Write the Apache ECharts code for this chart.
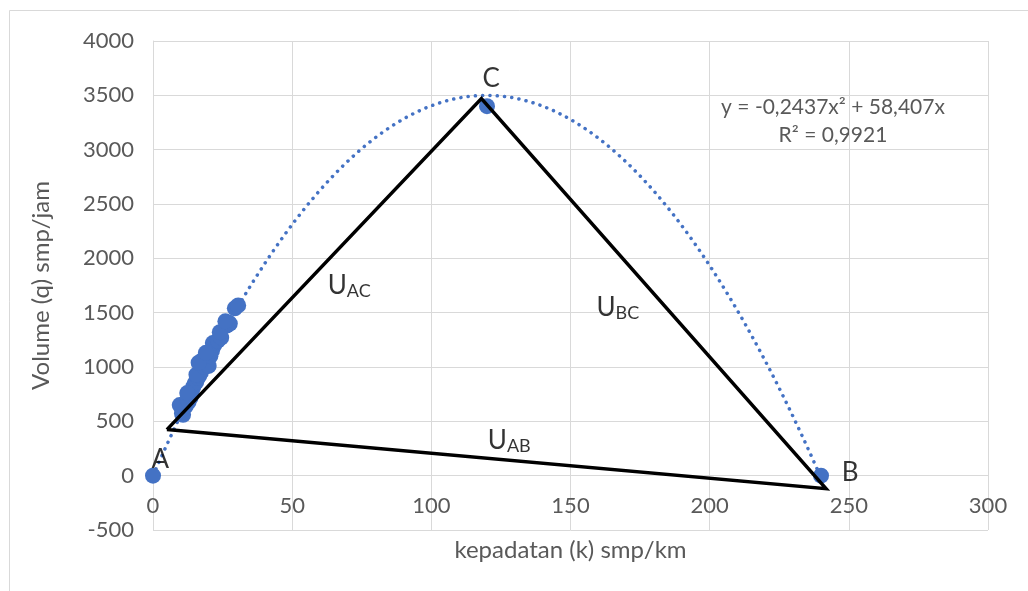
<!DOCTYPE html>
<html>
<head>
<meta charset="utf-8">
<script src="https://cdn.jsdelivr.net/npm/echarts@6/dist/echarts.min.js"></script>
<style>
  html, body { margin: 0; padding: 0; background: #fff; }
  #chart { width: 1028px; height: 591px; }
</style>
</head>
<body>
<div id="chart"></div>
<script>
// observed points: kepadatan (k) vs volume (q)
var kData = [0, 10.4, 10.8, 11.5, 11.8, 9.6, 12.4, 12.8, 13.5, 14, 14.5, 13.2, 15, 15.5, 16.1, 16.6, 17.2, 15.6, 18, 18.4, 19, 19.6, 17.6, 20, 20.6, 21.2, 22, 21.5, 23.3, 24.5, 26.5, 27, 27.6, 29.4, 30.6, 12.3, 16.4, 19, 24, 26, 120, 240];
var qData = [0, 571, 560, 663, 640, 650, 700, 680, 720, 783, 820, 760, 850, 860, 903, 920, 950, 930, 1041, 1000, 1050, 1088, 1060, 1010, 1100, 1150, 1200, 1220, 1244, 1270, 1380, 1410, 1400, 1540, 1567, 760, 1040, 1130, 1320, 1420, 3400, 0];

// polynomial trendline y = a*x^2 + b*x
var trendCoef = [-0.2437, 58.407];
var trendRange = [0, 240];

// triangle A -> C -> B -> A
var triK = [5, 118, 241.8, 5];
var triQ = [424, 3470, -120, 424];

// annotation texts and their data positions
var noteText = ['A', 'C', 'B', '{u|U}{s|AC}', '{u|U}{s|BC}', '{u|U}{s|AB}'];
var noteK = [2.6, 121.5, 250.5, 70.5, 167, 128];
var noteQ = [150, 3650, 25, 1750, 1548, 322];

var xTicks = [0, 300, 50];
var yTicks = [-500, 4000, 500];

var scatterData = [];
for (var i = 0; i < kData.length; i++) scatterData.push([kData[i], qData[i]]);

var trendData = [];
for (var x = trendRange[0]; x <= trendRange[1]; x += 1) {
  trendData.push([x, trendCoef[0] * x * x + trendCoef[1] * x]);
}

var triData = [];
for (var i = 0; i < triK.length; i++) triData.push([triK[i], triQ[i]]);

var noteData = [];
for (var i = 0; i < noteText.length; i++) noteData.push({ value: [noteK[i], noteQ[i]], name: noteText[i] });

var font = 'Lato';
var grey = '#595959';
var gridColor = '#d9d9d9';

var ec = echarts.init(document.getElementById('chart'));
ec.setOption({
  animation: false,
  backgroundColor: '#fff',
  textStyle: { fontFamily: font },
  grid: { left: 153, right: 40, top: 41, bottom: 61, outerBoundsMode: 'none' },
  graphic: [{
    type: 'rect',
    shape: { x: 9.5, y: 10.5, width: 1040, height: 600 },
    style: { fill: null, stroke: gridColor, lineWidth: 1 }
  }, {
    type: 'text',
    x: 833, y: 107,
    style: { text: 'y = -0,2437x² + 58,407x', fill: grey, font: '21px "' + font + '"', align: 'center', verticalAlign: 'middle' }
  }, {
    type: 'text',
    x: 833, y: 135,
    style: { text: 'R² = 0,9921', fill: grey, font: '21px "' + font + '"', align: 'center', verticalAlign: 'middle' }
  }],
  xAxis: {
    type: 'value',
    min: xTicks[0], max: xTicks[1], interval: xTicks[2],
    offset: -55,
    name: 'kepadatan (k) smp/km',
    nameLocation: 'middle',
    nameGap: 63,
    nameMoveOverlap: false,
    nameTextStyle: { color: grey, fontSize: 24 },
    axisLine: { onZero: false, lineStyle: { color: gridColor } },
    axisTick: { show: false },
    axisLabel: { color: grey, fontSize: 22, margin: 20 },
    splitLine: { lineStyle: { color: gridColor, width: 1 } }
  },
  yAxis: {
    type: 'value',
    min: yTicks[0], max: yTicks[1], interval: yTicks[2],
    name: 'Volume (q) smp/jam',
    nameLocation: 'middle',
    nameGap: 100,
    nameMoveOverlap: false,
    nameTextStyle: { color: grey, fontSize: 24 },
    axisLine: { show: true, onZero: false, lineStyle: { color: gridColor } },
    axisTick: { show: false },
    axisLabel: { color: grey, fontSize: 22, margin: 19, formatter: function (v) { return String(v); } },
    splitLine: { lineStyle: { color: gridColor, width: 1 } }
  },
  series: [{
    name: 'trend',
    type: 'line',
    data: trendData,
    showSymbol: false,
    smooth: false,
    z: 2,
    lineStyle: { color: '#4472C4', width: 3.5, type: [0.1, 7.2], cap: 'round' }
  }, {
    name: 'data',
    type: 'scatter',
    data: scatterData,
    symbolSize: 16,
    z: 3,
    itemStyle: { color: '#4472C4', opacity: 1 }
  }, {
    name: 'segitiga',
    type: 'line',
    data: triData,
    showSymbol: false,
    z: 4,
    lineStyle: { color: '#000', width: 3.5, join: 'miter' }
  }, {
    name: 'notes',
    type: 'scatter',
    data: noteData,
    symbolSize: 0,
    z: 5,
    silent: true,
    label: {
      show: true,
      position: 'inside',
      formatter: '{b}',
      color: '#000',
      fontSize: 26,
      rich: {
        u: { fontSize: 26, color: '#000' },
        s: { fontSize: 18, color: '#000', padding: [12, 0, 0, 0] }
      }
    }
  }]
});
</script>
</body>
</html>
